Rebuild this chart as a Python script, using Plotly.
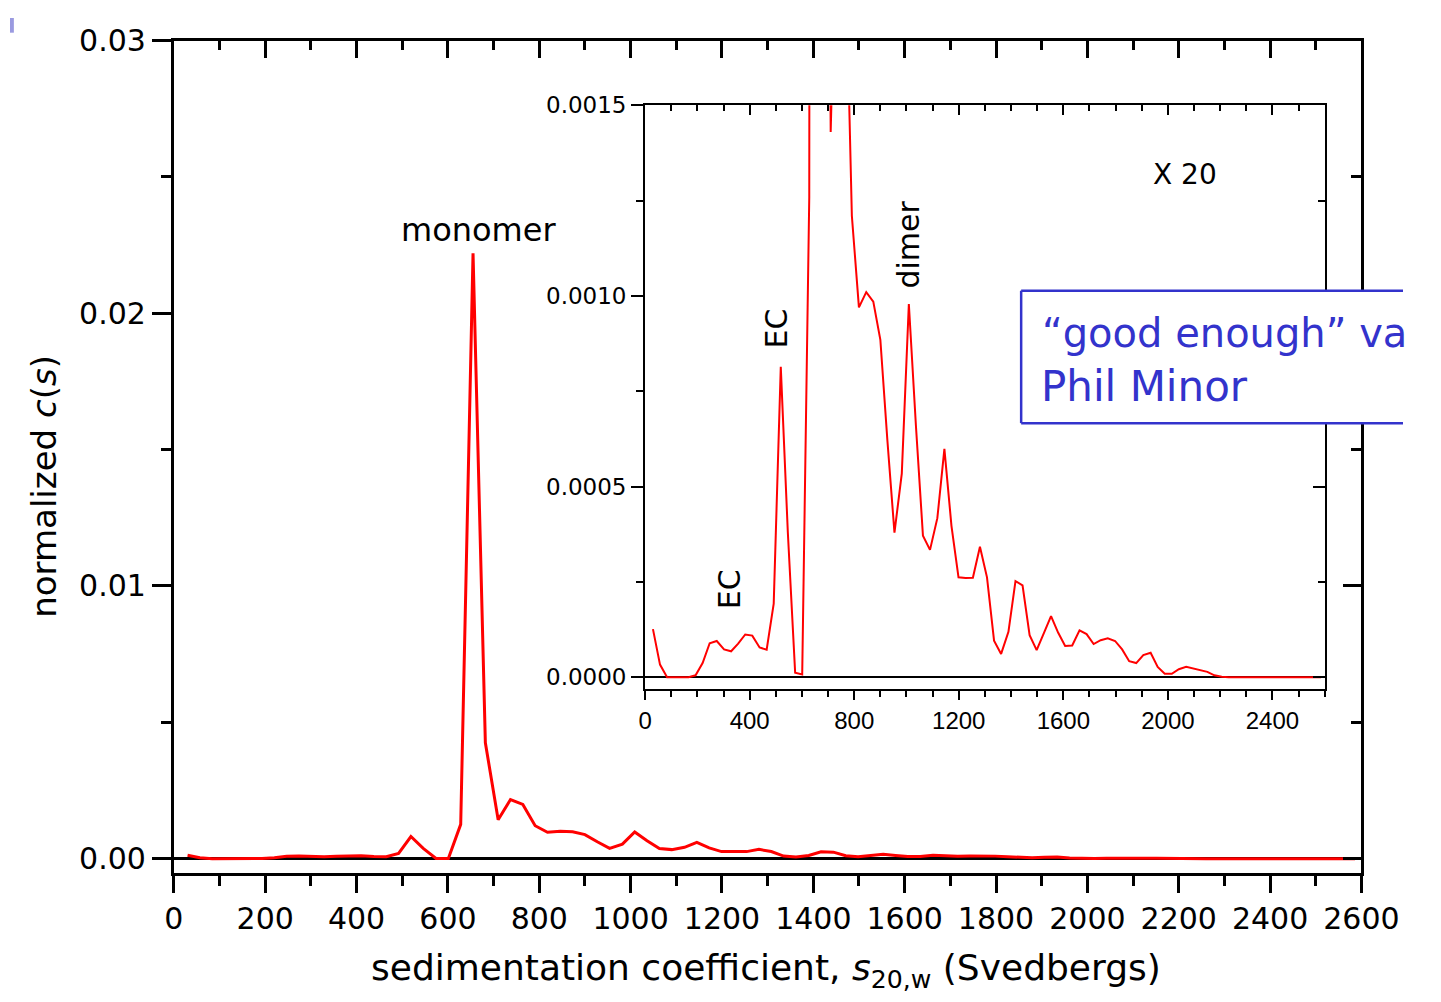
import plotly.graph_objects as go

W, H = 1441, 1002

# sedimentation coefficient grid (S)
s_values = [30, 57, 84, 111, 138, 166, 193, 220, 247, 274, 302, 329, 356, 383, 410,
            438, 465, 492, 519, 546, 574, 601, 628, 655, 682, 710, 737, 764, 791, 818,
            846, 873, 900, 927, 954, 982, 1009, 1036, 1063, 1090, 1118, 1145, 1172, 1199,
            1226, 1254, 1281, 1308, 1335, 1362, 1390, 1417, 1444, 1471, 1498, 1526, 1553,
            1580, 1607, 1634, 1662, 1689, 1716, 1743, 1770, 1798, 1825, 1852, 1879, 1906,
            1934, 1961, 1988, 2015, 2042, 2070, 2097, 2124, 2151, 2178, 2206, 2233, 2260,
            2287, 2314, 2342, 2369, 2396, 2423, 2450, 2478, 2505, 2532, 2559, 2586]

# normalized c(s)
c_values = [0.000126, 0.000033, 0.0, 0.0, 0.0, 0.0, 0.000005, 0.000037, 0.000089, 0.000095,
            0.000073, 0.000068, 0.000088, 0.000112, 0.000109, 0.000078, 0.000072, 0.000193,
            0.000814, 0.00038, 0.000012, 0.000007, 0.00126, 0.0222, 0.00425, 0.00143,
            0.00217, 0.00199, 0.00121, 0.00097, 0.00101, 0.000985, 0.000885, 0.00062,
            0.000379, 0.000534, 0.000979, 0.00066, 0.000371, 0.000334, 0.000417, 0.000599,
            0.000397, 0.000262, 0.00026, 0.000261, 0.000342, 0.000262, 0.000096, 0.000061,
            0.000119, 0.000252, 0.000241, 0.00011, 0.000071, 0.000116, 0.00016, 0.000117,
            0.000082, 0.000083, 0.000123, 0.000113, 0.000087, 0.000097, 0.000102, 0.000095,
            0.000073, 0.000042, 0.000037, 0.000058, 0.000064, 0.000027, 0.000009, 0.000009,
            0.000021, 0.000027, 0.000023, 0.000019, 0.000014, 0.000005, 0.000001, 0.0, 0.0,
            0.0, 0.0, 0.0, 0.0, 0.0, 0.0, 0.0, 0.0, 0.0, 0.0, 0.0, 0.0]

main_xticks = list(range(0, 2601, 200))
main_yticks = [0.0, 0.01, 0.02, 0.03]
inset_xticks = list(range(0, 2401, 400))
inset_yticks = [0.0, 0.0005, 0.0010, 0.0015]


def px(x):
    return x / W


def py(y):
    return 1 - y / H


main_xdom = [px(169.5), px(1398)]
main_ydom = [py(873), py(24)]
ins_xdom = [px(657), px(1360)]
ins_ydom = [py(685), py(90)]

MAIN_YR = [-0.00054, 0.03]
INS_YR = [-0.000031, 0.0015]
XR = [0, 2600]

BLACK = "black"
RED = "#ff0000"
BLUE = "#3333cc"
F_MAIN = "DejaVu Sans"

fig = go.Figure()

fig.add_trace(go.Scatter(x=s_values, y=c_values, mode="lines",
                         line=dict(color=RED, width=3), xaxis="x", yaxis="y",
                         showlegend=False, hoverinfo="skip"))
fig.add_trace(go.Scatter(x=[None], y=[None], xaxis="x2", yaxis="y2",
                         showlegend=False, hoverinfo="skip"))
fig.add_trace(go.Scatter(x=s_values, y=c_values, mode="lines",
                         line=dict(color=RED, width=2), xaxis="x3", yaxis="y3",
                         showlegend=False, hoverinfo="skip"))
fig.add_trace(go.Scatter(x=[None], y=[None], xaxis="x4", yaxis="y4",
                         showlegend=False, hoverinfo="skip"))

common = dict(showgrid=False, linecolor=BLACK, tickcolor=BLACK, layer="above traces")

fig.update_layout(
    width=W, height=H, autosize=False,
    margin=dict(l=0, r=0, t=0, b=0),
    paper_bgcolor="white", plot_bgcolor="rgba(0,0,0,0)",
    showlegend=False,
    font=dict(family=F_MAIN, color=BLACK),
    xaxis=dict(domain=main_xdom, anchor="y", range=XR, tickmode="array",
               tickvals=main_xticks, ticks="outside", ticklen=17, tickwidth=3,
               showline=True, linewidth=3, zeroline=False,
               minor=dict(tickmode="linear", tick0=0, dtick=100, ticks="outside",
                          ticklen=10, tickwidth=3, tickcolor=BLACK),
               tickfont=dict(size=30, family=F_MAIN), **common),
    xaxis2=dict(domain=main_xdom, anchor="y", overlaying="x", side="top", range=XR,
                tickmode="array", tickvals=main_xticks, ticks="inside", ticklen=17,
                tickwidth=3, showline=True, linewidth=3, showticklabels=False,
                zeroline=False,
                minor=dict(tickmode="linear", tick0=0, dtick=100, ticks="inside",
                           ticklen=9, tickwidth=3, tickcolor=BLACK), **common),
    yaxis=dict(domain=main_ydom, anchor="x", range=MAIN_YR, tickmode="array",
               tickvals=main_yticks, tickformat=".2f", ticks="outside", ticklen=19,
               tickwidth=3, showline=True, linewidth=3,
               zeroline=True, zerolinecolor=BLACK, zerolinewidth=3,
               minor=dict(tickmode="linear", tick0=0, dtick=0.005, ticks="outside",
                          ticklen=10, tickwidth=3, tickcolor=BLACK),
               tickfont=dict(size=30, family=F_MAIN), **common),
    yaxis2=dict(domain=main_ydom, anchor="x", overlaying="y", side="right",
                range=MAIN_YR, tickmode="array", tickvals=main_yticks, ticks="inside",
                ticklen=18, tickwidth=3, showline=True, linewidth=3,
                showticklabels=False, zeroline=False,
                minor=dict(tickmode="linear", tick0=0, dtick=0.005, ticks="inside",
                           ticklen=10, tickwidth=3, tickcolor=BLACK), **common),
    xaxis3=dict(domain=ins_xdom, anchor="y3", range=XR, tickmode="array",
                tickvals=inset_xticks, ticks="outside", ticklen=9, tickwidth=2,
                showline=True, linewidth=2, zeroline=False,
                minor=dict(tickmode="linear", tick0=0, dtick=100, ticks="outside",
                           ticklen=6, tickwidth=2, tickcolor=BLACK),
                tickfont=dict(size=24, family="Liberation Sans"), **common),
    xaxis4=dict(domain=ins_xdom, anchor="y3", overlaying="x3", side="top", range=XR,
                tickmode="array", tickvals=inset_xticks, ticks="inside", ticklen=10,
                tickwidth=2, showline=True, linewidth=2, showticklabels=False,
                zeroline=False,
                minor=dict(tickmode="linear", tick0=0, dtick=100, ticks="inside",
                           ticklen=6, tickwidth=2, tickcolor=BLACK), **common),
    yaxis3=dict(domain=ins_ydom, anchor="x3", range=INS_YR, tickmode="array",
                tickvals=inset_yticks, tickformat=".4f", ticks="outside", ticklen=12,
                tickwidth=2, showline=True, linewidth=2,
                zeroline=True, zerolinecolor=BLACK, zerolinewidth=2,
                minor=dict(tickmode="linear", tick0=0, dtick=0.00025, ticks="outside",
                           ticklen=7, tickwidth=2, tickcolor=BLACK),
                tickfont=dict(size=23, family=F_MAIN), **common),
    yaxis4=dict(domain=ins_ydom, anchor="x3", overlaying="y3", side="right",
                range=INS_YR, tickmode="array", tickvals=inset_yticks, ticks="inside",
                ticklen=12, tickwidth=2, showline=True, linewidth=2,
                showticklabels=False, zeroline=False,
                minor=dict(tickmode="linear", tick0=0, dtick=0.00025, ticks="inside",
                           ticklen=7, tickwidth=2, tickcolor=BLACK), **common),
)


def label(text, x, y, size, angle=0, family=F_MAIN, color=BLACK, xanchor="center"):
    fig.add_annotation(text=text, x=px(x), y=py(y), xref="paper", yref="paper",
                       showarrow=False, textangle=angle, xanchor=xanchor,
                       yanchor="middle", font=dict(size=size, family=family, color=color))


label("monomer", 485, 217, 32)
label("EC", 793, 318, 30, angle=-90)
label("EC", 745, 583, 30, angle=-90)
label("dimer", 930, 232, 30, angle=-90)
label("X 20", 1216, 161, 28)
label("normalized <i>c</i>(<i>s</i>)", 35, 478, 34, angle=-90)
label("sedimentation coefficient, <i>s</i><sub>20,w</sub> (Svedbergs)", 782, 972, 36)

# blue text box (its right side runs off the page edge)
fig.add_shape(type="rect", xref="paper", yref="paper", x0=px(1046), x1=1.0,
              y0=py(414), y1=py(279), line=dict(width=0),
              fillcolor="white", layer="above")
for (xa, ya, xb, yb) in [(1046, 279, W, 279), (1046, 414, W, 414), (1046, 279, 1046, 414)]:
    fig.add_shape(type="line", xref="paper", yref="paper", x0=px(xa), y0=py(ya),
                  x1=px(xb), y1=py(yb), line=dict(color=BLUE, width=2.5), layer="above")
label("\u201cgood enough\u201d va", 1066, 322, 40, color=BLUE, xanchor="left")
label("Phil Minor", 1064, 377, 42, color=BLUE, xanchor="left")

# small mark in top-left corner
fig.add_shape(type="rect", xref="paper", yref="paper", x0=0, x1=px(4),
              y0=py(16), y1=py(1), line=dict(width=0), fillcolor="#9a9ae0")

fig.write_html("out.html")
